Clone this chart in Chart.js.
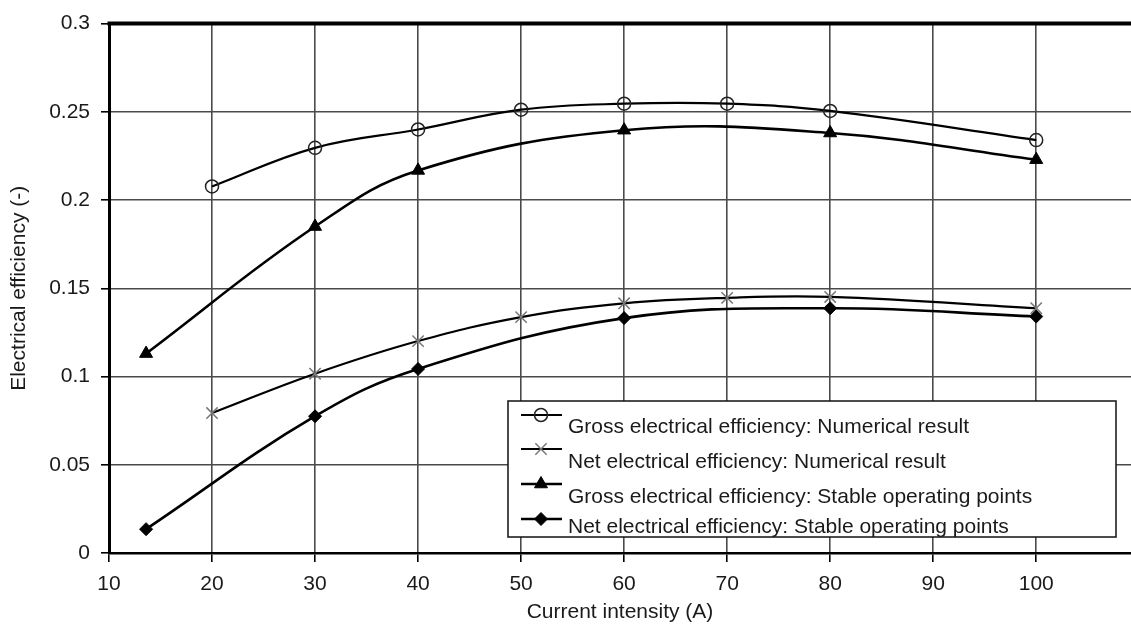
<!DOCTYPE html>
<html>
<head>
<meta charset="utf-8">
<script src="https://cdn.jsdelivr.net/npm/chart.js@4/dist/chart.umd.min.js"></script>
<style>
  html, body { margin: 0; padding: 0; background: #fff; }
  #wrap { width: 1131px; height: 633px; }
</style>
</head>
<body>
<div id="wrap"><canvas id="c" width="1131" height="633"></canvas></div>
<script>
// ---- Data ----
const xTicks = [10, 20, 30, 40, 50, 60, 70, 80, 90, 100];
const yTicks = [0, 0.05, 0.1, 0.15, 0.2, 0.25, 0.3];

const xNumerical = [20, 30, 40, 50, 60, 70, 80, 100];
const grossNumerical = [0.2077, 0.2296, 0.2400, 0.2512, 0.2546, 0.2546, 0.2505, 0.2340];
const netNumerical   = [0.0793, 0.1016, 0.1201, 0.1337, 0.1415, 0.1446, 0.1451, 0.1387];

const xStable = [13.6, 30, 40, 60, 80, 100];
const grossStable = [0.1130, 0.1850, 0.2168, 0.2396, 0.2380, 0.2229];
const netStable   = [0.0135, 0.0775, 0.1043, 0.1331, 0.1387, 0.1340];

const seriesLabels = [
  'Gross electrical efficiency: Numerical result',
  'Net electrical efficiency: Numerical result',
  'Gross electrical efficiency: Stable operating points',
  'Net electrical efficiency: Stable operating points'
];
const xTitle = 'Current intensity (A)';
const yTitle = 'Electrical efficiency (-)';

const pts = (xs, ys) => xs.map((x, i) => ({ x: x, y: ys[i] }));

Chart.defaults.font.family = '"Liberation Sans", Arial, Helvetica, sans-serif';
Chart.defaults.font.size = 21;
Chart.defaults.color = '#1a1a1a';

// Boxed legend inside the plot (bottom right)
const boxLegend = {
  id: 'boxLegend',
  afterDraw(chart) {
    const ctx = chart.ctx;
    const box = { l: 508, t: 401, r: 1116, b: 537 };
    const lineY = [415, 449, 484, 519];
    const textY = [427, 462, 497, 527];
    ctx.save();
    ctx.fillStyle = '#fff';
    ctx.fillRect(box.l, box.t, box.r - box.l, box.b - box.t);
    ctx.strokeStyle = '#111';
    ctx.lineWidth = 1.5;
    ctx.strokeRect(box.l, box.t, box.r - box.l, box.b - box.t);
    chart.data.datasets.forEach((ds, i) => {
      ctx.strokeStyle = ds.borderColor;
      ctx.lineWidth = ds.borderWidth;
      ctx.beginPath();
      ctx.moveTo(521, lineY[i]);
      ctx.lineTo(562, lineY[i]);
      ctx.stroke();
      ctx.fillStyle = ds.pointBackgroundColor;
      ctx.strokeStyle = ds.pointBorderColor;
      ctx.lineWidth = ds.pointBorderWidth;
      if (Chart.helpers && Chart.helpers.drawPoint) {
        Chart.helpers.drawPoint(ctx, {
          pointStyle: ds.pointStyle, radius: ds.pointRadius,
          borderWidth: ds.pointBorderWidth, rotation: 0
        }, 541, lineY[i]);
      }
      ctx.fillStyle = '#1a1a1a';
      ctx.font = '21px "Liberation Sans", Arial, sans-serif';
      ctx.textAlign = 'left';
      ctx.textBaseline = 'middle';
      ctx.fillText(ds.label, 568, textY[i]);
    });
    ctx.restore();
  }
};

// Thick top frame line
const topFrame = {
  id: 'topFrame',
  afterDraw(chart) {
    const a = chart.chartArea, ctx = chart.ctx;
    ctx.save();
    ctx.strokeStyle = '#000';
    ctx.lineWidth = 4;
    ctx.beginPath();
    ctx.moveTo(a.left - 1.5, a.top);
    ctx.lineTo(chart.width, a.top);
    ctx.stroke();
    ctx.restore();
  }
};

const common = { borderColor: '#000', borderWidth: 2.4, tension: 0.4, fill: false };

new Chart(document.getElementById('c'), {
  type: 'line',
  data: {
    datasets: [
      Object.assign({}, common, {
        label: seriesLabels[0], data: pts(xNumerical, grossNumerical),
        pointStyle: 'circle', pointRadius: 6.5, pointBorderWidth: 1.5,
        pointBackgroundColor: 'rgba(0,0,0,0)', pointBorderColor: '#222', borderWidth: 2.2
      }),
      Object.assign({}, common, {
        label: seriesLabels[1], data: pts(xNumerical, netNumerical),
        pointStyle: 'crossRot', pointRadius: 8, pointBorderWidth: 1.5,
        pointBackgroundColor: '#777', pointBorderColor: '#777', borderWidth: 2.2
      }),
      Object.assign({}, common, {
        label: seriesLabels[2], data: pts(xStable, grossStable),
        pointStyle: 'triangle', pointRadius: 7.5, pointBorderWidth: 1,
        pointBackgroundColor: '#000', pointBorderColor: '#000', borderWidth: 2.6
      }),
      Object.assign({}, common, {
        label: seriesLabels[3], data: pts(xStable, netStable),
        pointStyle: 'rectRot', pointRadius: 6.5, pointBorderWidth: 1,
        pointBackgroundColor: '#000', pointBorderColor: '#000', borderWidth: 2.6
      })
    ]
  },
  options: {
    responsive: false,
    animation: false,
    events: [],
    layout: { autoPadding: false, padding: { top: 13, right: 0, bottom: 0, left: 0 } },
    plugins: { legend: { display: false }, tooltip: { enabled: false } },
    scales: {
      x: {
        type: 'linear',
        min: 10, max: 109.2,
        afterBuildTicks: (s) => { s.ticks = xTicks.map(v => ({ value: v })); },
        afterFit: (s) => { s.height = 80; s.paddingRight = 0; s.paddingLeft = 0; },
        ticks: { padding: 10, color: '#1a1a1a', font: { size: 21 } },
        grid: { color: '#4a4a4a', lineWidth: 1.6, tickLength: 9, tickColor: '#000', tickWidth: 1.6 },
        border: { color: '#000', width: 2.5 },
        title: { display: true, text: xTitle, padding: { top: 0, bottom: 8 }, font: { size: 21 }, color: '#1a1a1a' }
      },
      y: {
        min: 0, max: 0.3,
        afterBuildTicks: (s) => { s.ticks = yTicks.map(v => ({ value: v })); },
        afterFit: (s) => { s.width = 109; },
        ticks: { padding: 11, color: '#1a1a1a', font: { size: 21 },
                 callback: (v) => String(+Number(v).toFixed(2)) },
        grid: { color: '#4a4a4a', lineWidth: 1.6, tickLength: 8, tickColor: '#000', tickWidth: 1.6 },
        border: { color: '#000', width: 3 },
        title: { display: true, text: yTitle, padding: { top: 7, bottom: 0 }, font: { size: 21 }, color: '#1a1a1a' }
      }
    }
  },
  plugins: [boxLegend, topFrame]
});
</script>
</body>
</html>
